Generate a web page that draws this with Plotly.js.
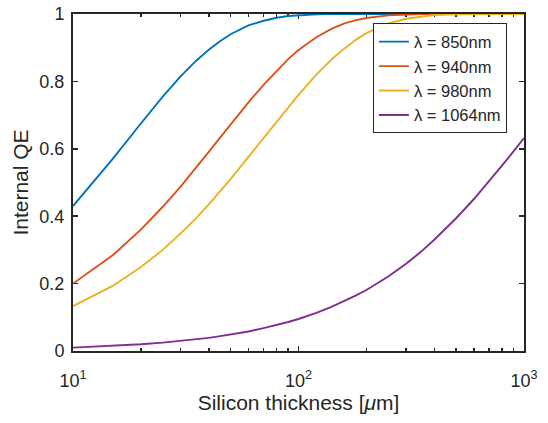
<!DOCTYPE html>
<html>
<head>
<meta charset="utf-8">
<script src="https://cdn.plot.ly/plotly-3.0.1.min.js"></script>
<style>html,body{margin:0;padding:0;background:#fff}</style>
</head>
<body>
<div id="chart" style="width:548px;height:423px"></div>
<script>
// Silicon thickness [µm]
const thickness = [10,15,20,25,30,35,40,45,50,60,70,80,90,100,120,140,160,180,200,250,300,350,400,500,600,700,800,900,1000];
// Internal QE per wavelength
const qe850  = [0.430,0.570,0.675,0.755,0.815,0.860,0.894,0.920,0.940,0.966,0.980,0.989,0.994,0.996,0.999,1.000,1.000,1.000,1.000,1.000,1.000,1.000,1.000,1.000,1.000,1.000,1.000,1.000,1.000];
const qe940  = [0.200,0.284,0.360,0.428,0.488,0.542,0.591,0.634,0.672,0.738,0.790,0.832,0.866,0.893,0.931,0.956,0.972,0.982,0.988,0.996,0.999,1.000,1.000,1.000,1.000,1.000,1.000,1.000,1.000];
const qe980  = [0.133,0.193,0.249,0.300,0.349,0.393,0.435,0.474,0.510,0.576,0.632,0.681,0.724,0.760,0.820,0.865,0.898,0.924,0.943,0.972,0.986,0.993,0.997,0.999,1.000,1.000,1.000,1.000,1.000];
const qe1064 = [0.010,0.015,0.020,0.025,0.030,0.034,0.039,0.044,0.049,0.058,0.068,0.077,0.086,0.095,0.113,0.131,0.148,0.165,0.181,0.221,0.259,0.295,0.330,0.394,0.451,0.503,0.551,0.593,0.632];
const seriesNames = ["λ = 850nm","λ = 940nm","λ = 980nm","λ = 1064nm"];
const seriesColors = ["#0072BD","#D95319","#EDB120","#7E2F8E"];
const xTickVals = [10,100,1000];
const xTickText = ["10<sup>1</sup>","10<sup>2</sup>","10<sup>3</sup>"];
const xMinorVals = [20,30,40,50,60,70,80,90,200,300,400,500,600,700,800,900];
const yTickVals = [0,0.2,0.4,0.6,0.8,1];
const yTickText = ["0","0.2","0.4","0.6","0.8","1"];

const allY = [qe850, qe940, qe980, qe1064];
const traces = allY.map((y,i)=>({
  x: thickness, y: y, type:'scatter', mode:'lines', name: seriesNames[i],
  line:{color: seriesColors[i], width:1.9}
}));

const axColor = '#262626';
const font = {family:'"Liberation Sans", Arial, Helvetica, sans-serif', color: axColor};

const layout = {
  width:548, height:423,
  margin:{l:73, r:24, t:14, b:72, pad:0},
  paper_bgcolor:'#fff', plot_bgcolor:'#fff',
  font: Object.assign({size:18}, font),
  showlegend:true,
  legend:{x:0.665, y:0.972, xanchor:'left', yanchor:'top', bgcolor:'#fff',
          bordercolor:axColor, borderwidth:1, font:Object.assign({size:16.5}, font),
          tracegroupgap:0},
  xaxis:{type:'log', range:[1,3], tickvals:xTickVals, ticktext:xTickText,
         ticks:'inside', ticklen:5, tickwidth:1.5, tickcolor:axColor,
         minor:{tickvals:xMinorVals, ticks:'inside', ticklen:3, tickwidth:1.5, tickcolor:axColor, showgrid:false},
         showline:true, linecolor:axColor, linewidth:2, mirror:'ticks',
         showgrid:false, zeroline:false, layer:'below traces', ticklabelstandoff:12,
         tickfont:Object.assign({size:18}, font),
         title:{text:'Silicon thickness [<i>μ</i>m]', font:Object.assign({size:21}, font), standoff:4}},
  yaxis:{range:[0,1], tickvals:yTickVals, ticktext:yTickText,
         ticks:'inside', ticklen:5, tickwidth:1.5, tickcolor:axColor,
         showline:true, linecolor:axColor, linewidth:2, mirror:'ticks',
         showgrid:false, zeroline:false, layer:'below traces', ticklabelstandoff:3,
         tickfont:Object.assign({size:18}, font),
         title:{text:'Internal QE', font:Object.assign({size:21}, font), standoff:5}}
};

Plotly.newPlot('chart', traces, layout, {displayModeBar:false, staticPlot:true});
</script>
</body>
</html>
